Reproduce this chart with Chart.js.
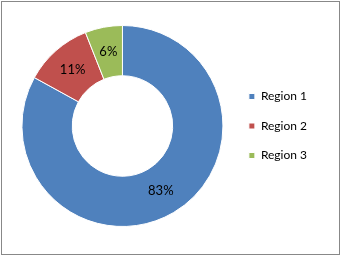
<!DOCTYPE html>
<html>
<head>
<meta charset="utf-8">
<script src="https://cdn.jsdelivr.net/npm/chart.js@4"></script>
<style>
  html, body { margin: 0; padding: 0; background: #fff; }
  #wrap { width: 341px; height: 256px; position: relative; }
</style>
</head>
<body>
<div id="wrap"><canvas id="chart" width="341" height="256"></canvas></div>
<script>
const regions = ['Region 1', 'Region 2', 'Region 3'];
const shares = [83, 11, 6];
const sliceColors = ['#4f81bd', '#c0504d', '#9bbb59'];

const frame = {
  id: 'frame',
  beforeDraw(chart) {
    const ctx = chart.ctx;
    ctx.save();
    ctx.fillStyle = '#fff';
    ctx.fillRect(0, 0, chart.width, chart.height);
    ctx.strokeStyle = '#888';
    ctx.lineWidth = 1;
    ctx.strokeRect(1.5, 1.5, chart.width - 3, chart.height - 3);
    ctx.restore();
  }
};

const sliceLabels = {
  id: 'sliceLabels',
  afterDatasetsDraw(chart) {
    const ctx = chart.ctx;
    const data = chart.data.datasets[0].data;
    const total = data.reduce((a, b) => a + b, 0);
    ctx.save();
    ctx.font = '13px Lato, "Open Sans", sans-serif';
    ctx.fillStyle = '#000';
    ctx.textAlign = 'center';
    ctx.textBaseline = 'middle';
    chart.getDatasetMeta(0).data.forEach((arc, i) => {
      const pos = arc.tooltipPosition();
      ctx.fillText(Math.round(data[i] / total * 100) + '%', pos.x, pos.y);
    });
    ctx.restore();
  }
};

new Chart(document.getElementById('chart'), {
  type: 'doughnut',
  data: {
    labels: regions,
    datasets: [{
      data: shares,
      backgroundColor: sliceColors,
      borderColor: '#fff',
      borderWidth: 1
    }]
  },
  options: {
    responsive: false,
    animation: false,
    cutout: '50%',
    layout: { padding: { left: 13.5, top: 25, bottom: 29, right: 24 } },
    plugins: {
      tooltip: { enabled: false },
      legend: {
        position: 'right',
        labels: {
          boxWidth: 6,
          boxHeight: 6,
          padding: 17.5,
          color: '#000',
          font: { family: 'Lato, "Open Sans", sans-serif', size: 12 }
        }
      }
    }
  },
  plugins: [frame, sliceLabels]
});
</script>
</body>
</html>
